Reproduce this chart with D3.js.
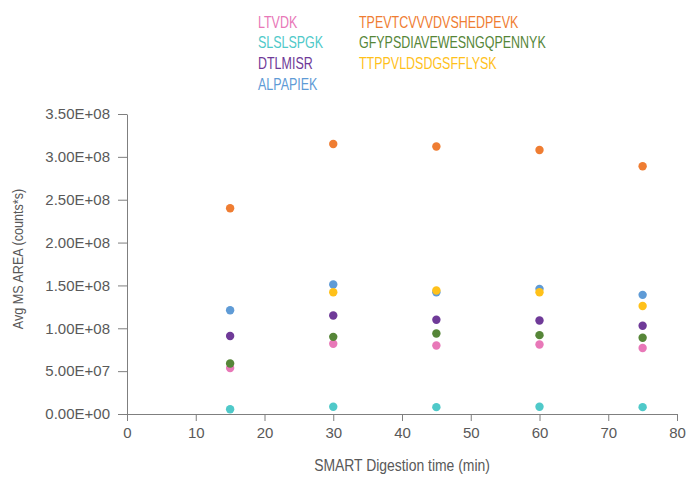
<!DOCTYPE html>
<html>
<head>
<meta charset="utf-8">
<script src="https://cdn.jsdelivr.net/npm/d3@7"></script>
<style>
  body { margin: 0; background: #fff; }
  svg { display: block; font-family: "Liberation Sans", Arial, sans-serif; }
</style>
</head>
<body>
<svg></svg>
<script>
// Chart size and margins
const width = 687;
const height = 477;
const marginTop = 114;
const marginRight = 10;
const marginBottom = 63;
const marginLeft = 127;

// Data
const times = [15, 30, 45, 60, 75];
const seriesNames = ["LTVDK", "SLSLSPGK", "DTLMISR", "ALPAPIEK", "TPEVTCVVVDVSHEDPEVK", "GFYPSDIAVEWESNGQPENNYK", "TTPPVLDSDGSFFLYSK"];
const colors = ["#e878b8", "#4fc9c9", "#6f3a98", "#5f9bd6", "#ef7d32", "#568638", "#ffc11a"];
const ltvdk = [5.37e7, 8.2e7, 8.0e7, 8.1e7, 7.7e7];
const slslspgk = [5.6e6, 8.4e6, 8.0e6, 8.4e6, 8.0e6];
const dtlmisr = [9.1e7, 1.15e8, 1.10e8, 1.09e8, 1.03e8];
const alpapiek = [1.21e8, 1.51e8, 1.42e8, 1.46e8, 1.39e8];
const tpevtc = [2.40e8, 3.15e8, 3.12e8, 3.08e8, 2.89e8];
const gfypsd = [5.9e7, 9.0e7, 9.4e7, 9.2e7, 8.9e7];
const ttppvl = [null, 1.42e8, 1.44e8, 1.42e8, 1.26e8];
const yTicks = [0, 5e7, 1e8, 1.5e8, 2e8, 2.5e8, 3e8, 3.5e8];
const xTicks = [0, 10, 20, 30, 40, 50, 60, 70, 80];

const allValues = [ltvdk, slslspgk, dtlmisr, alpapiek, tpevtc, gfypsd, ttppvl];
const series = seriesNames.map((name, i) => ({name, color: colors[i], values: allValues[i]}));

const svg = d3.select("svg")
    .attr("width", width)
    .attr("height", height)
    .attr("viewBox", [0, 0, width, height]);

const x = d3.scaleLinear([0, 80], [marginLeft, width - marginRight]);
const y = d3.scaleLinear([0, 3.5e8], [height - marginBottom, marginTop]);

const axisColor = "#7f7f7f";
const textColor = "#595959";

// x axis
svg.append("g")
    .attr("transform", `translate(0,${height - marginBottom})`)
    .call(d3.axisBottom(x).tickValues(xTicks).tickSize(7).tickSizeOuter(0).tickPadding(6))
    .call(g => g.select(".domain").attr("stroke", axisColor))
    .call(g => g.selectAll(".tick line").attr("stroke", axisColor))
    .call(g => g.selectAll(".tick text").attr("fill", textColor).attr("font-size", 15).attr("font-family", null));

// y axis
const fmt = v => {
  if (v === 0) return "0.00E+00";
  const e = Math.floor(Math.log10(v));
  return (v / Math.pow(10, e)).toFixed(2) + "E+" + String(e).padStart(2, "0");
};
svg.append("g")
    .attr("transform", `translate(${marginLeft},0)`)
    .call(d3.axisLeft(y).tickValues(yTicks).tickFormat(fmt).tickSize(9).tickSizeOuter(0).tickPadding(8))
    .call(g => g.select(".domain").attr("stroke", axisColor))
    .call(g => g.selectAll(".tick line").attr("stroke", axisColor))
    .call(g => g.selectAll(".tick text").attr("fill", textColor).attr("font-size", 15).attr("font-family", null));

// axis titles (squeezed horizontally to look like a condensed face)
svg.append("text")
    .attr("transform", `translate(${(marginLeft + width - marginRight) / 2},471) scale(0.87,1)`)
    .attr("text-anchor", "middle")
    .attr("fill", textColor)
    .attr("font-size", 16)
    .text("SMART Digestion time (min)");

svg.append("text")
    .attr("transform", `translate(23,259) rotate(-90) scale(0.84,1)`)
    .attr("text-anchor", "middle")
    .attr("fill", textColor)
    .attr("font-size", 15)
    .text("Avg MS AREA (counts*s)");

// points
series.forEach(s => {
  svg.append("g")
    .selectAll("circle")
    .data(times.map((t, i) => ({t, v: s.values[i]})).filter(d => d.v != null))
    .join("circle")
      .attr("cx", d => x(d.t))
      .attr("cy", d => y(d.v))
      .attr("r", 4.2)
      .attr("fill", s.color);
});

// legend
const legend = svg.append("g");
series.forEach((s, i) => {
  const col = i < 4 ? 0 : 1;
  const row = i < 4 ? i : i - 4;
  legend.append("text")
    .attr("transform", `translate(${col === 0 ? 258 : 359},${27.5 + row * 20.8}) scale(0.78,1)`)
    .attr("fill", s.color)
    .attr("font-size", 16)
    .text(s.name);
});
</script>
</body>
</html>
